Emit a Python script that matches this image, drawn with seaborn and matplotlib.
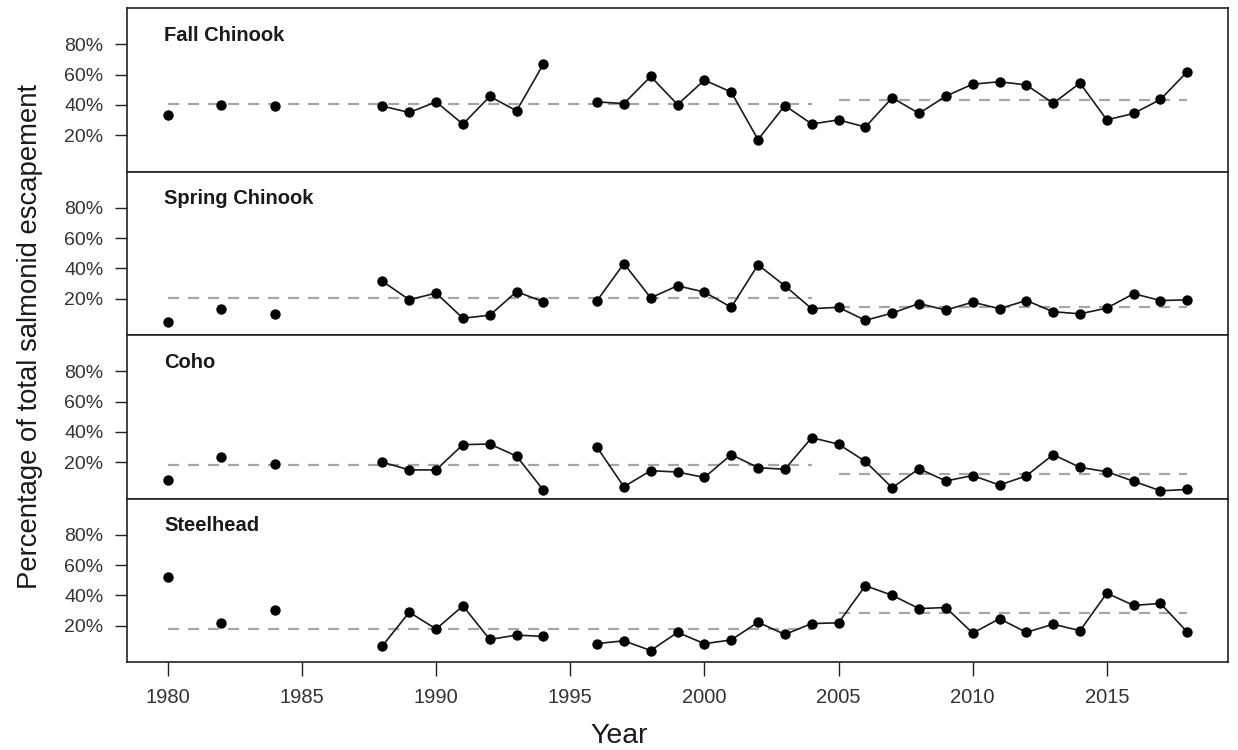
import numpy as np
import pandas as pd
import matplotlib
matplotlib.use("Agg")
import matplotlib.pyplot as plt
import seaborn as sns

# Survey years (no counts in 1981, 1983, 1985-1987 and 1995)
years = [1980, 1982, 1984,
         1988, 1989, 1990, 1991, 1992, 1993, 1994,
         1996, 1997, 1998, 1999, 2000, 2001, 2002, 2003, 2004,
         2005, 2006, 2007, 2008, 2009, 2010, 2011, 2012, 2013,
         2014, 2015, 2016, 2017, 2018]

# Share of total salmonid escapement (%) per run
fall_chinook = [33.2, 40.1, 39.6,
                39.2, 35.0, 42.0, 27.3, 45.6, 36.1, 67.0,
                42.0, 40.9, 58.8, 40.2, 56.4, 48.5, 17.1, 39.6, 27.4,
                30.1, 25.4, 44.7, 34.4, 45.8, 53.7, 55.3, 53.2, 41.1,
                54.4, 30.1, 34.4, 43.6, 62.0]
spring_chinook = [4.7, 13.3, 9.6,
                  31.5, 19.3, 23.7, 7.1, 9.1, 24.6, 18.0,
                  18.7, 43.2, 20.6, 28.5, 24.4, 14.3, 42.4, 28.5, 13.4,
                  14.3, 5.7, 10.5, 16.8, 12.5, 17.7, 13.4, 18.8, 11.4,
                  10.0, 13.8, 23.3, 18.8, 19.2]
coho = [8.0, 23.1, 18.7,
        20.0, 14.9, 14.9, 31.6, 32.0, 24.0, 1.5,
        29.8, 3.8, 14.4, 13.5, 9.9, 25.0, 16.4, 15.3, 36.2,
        31.9, 20.5, 3.1, 15.7, 7.6, 11.2, 4.9, 11.0, 25.0,
        16.6, 13.7, 7.4, 1.1, 2.0]
steelhead = [52.0, 22.0, 30.4,
             6.7, 28.9, 17.8, 33.1, 10.9, 13.8, 12.9,
             8.2, 10.0, 3.6, 15.6, 8.1, 10.6, 22.3, 14.2, 21.4,
             21.9, 46.4, 40.1, 31.3, 32.0, 15.1, 24.6, 15.6, 21.0,
             16.7, 41.5, 33.4, 34.7, 15.8]

# Continuous survey blocks: points are joined only within a block
blocks = ["a", "b", "c",
          "d", "d", "d", "d", "d", "d", "d",
          "e", "e", "e", "e", "e", "e", "e", "e", "e",
          "e", "e", "e", "e", "e", "e", "e", "e", "e",
          "e", "e", "e", "e", "e"]

runs = ["Fall Chinook", "Spring Chinook", "Coho", "Steelhead"]

# Period averages: 1980-2004 and 2005-2018
period_bounds = [(1980, 2004), (2005, 2018)]
period_means = {
    "Fall Chinook": [40.9, 43.5],
    "Spring Chinook": [20.6, 14.3],
    "Coho": [18.2, 12.3],
    "Steelhead": [17.6, 28.2],
}

y_ticks = [20, 40, 60, 80]
y_tick_labels = ["20%", "40%", "60%", "80%"]
x_ticks = [1980, 1985, 1990, 1995, 2000, 2005, 2010, 2015]

values = {"Fall Chinook": fall_chinook, "Spring Chinook": spring_chinook,
          "Coho": coho, "Steelhead": steelhead}
frames = [pd.DataFrame({"year": years, "pct": values[r], "block": blocks, "run": r})
          for r in runs]
df = pd.concat(frames, ignore_index=True)

sns.set_theme(style="ticks")
plt.rcParams["font.family"] = ["Liberation Sans", "DejaVu Sans"]
plt.rcParams["axes.edgecolor"] = "#222222"
plt.rcParams["xtick.color"] = "#222222"
plt.rcParams["ytick.color"] = "#222222"

fig, axes = plt.subplots(4, 1, figsize=(12.38, 7.5), dpi=100, sharex=True)
fig.subplots_adjust(left=0.1026, right=0.992, top=0.9893, bottom=0.1173, hspace=0)

for ax, run in zip(axes, runs):
    sub = df[df["run"] == run]
    for (x0, x1), m in zip(period_bounds, period_means[run]):
        ax.hlines(m, x0, x1, colors="#a6a6a6", linestyles=(0, (5, 4)), lw=1.6, zorder=1)
    sns.lineplot(data=sub, x="year", y="pct", units="block", estimator=None,
                 color="#1a1a1a", lw=1.2, ax=ax, legend=False, zorder=2)
    sns.scatterplot(data=sub, x="year", y="pct", color="black", s=56,
                    edgecolor="black", linewidth=0, ax=ax, legend=False, zorder=3)
    ax.set_xlim(1978.48, 2019.52)
    ax.set_ylim(-4, 104)
    ax.set_yticks(y_ticks)
    ax.set_yticklabels(y_tick_labels)
    ax.set_ylabel("")
    ax.set_xlabel("")
    for sp in ax.spines.values():
        sp.set_visible(True)
        sp.set_linewidth(1.2)
    ax.tick_params(axis="y", direction="out", length=9, width=1.0, labelsize=14,
                   pad=8, labelcolor="#333333")
    ax.tick_params(axis="x", direction="out", length=10, width=1.0, labelsize=14.5,
                   pad=9, labelcolor="#333333")
    ax.text(0.034, 0.835, run, transform=ax.transAxes, fontsize=14.5,
            fontweight="bold", color="#1a1a1a", va="center", ha="left")

axes[-1].set_xticks(x_ticks)
axes[-1].set_xticklabels([str(t) for t in x_ticks])
for ax in axes[:-1]:
    ax.tick_params(axis="x", length=0)

fig.text(0.5, 0.019, "Year", ha="center", va="center", fontsize=20.5, color="#1a1a1a")
fig.text(0.024, 0.551, "Percentage of total salmonid escapement", rotation=90,
         ha="center", va="center", fontsize=19.8, color="#1a1a1a")

fig.savefig("out.png", dpi=100)
